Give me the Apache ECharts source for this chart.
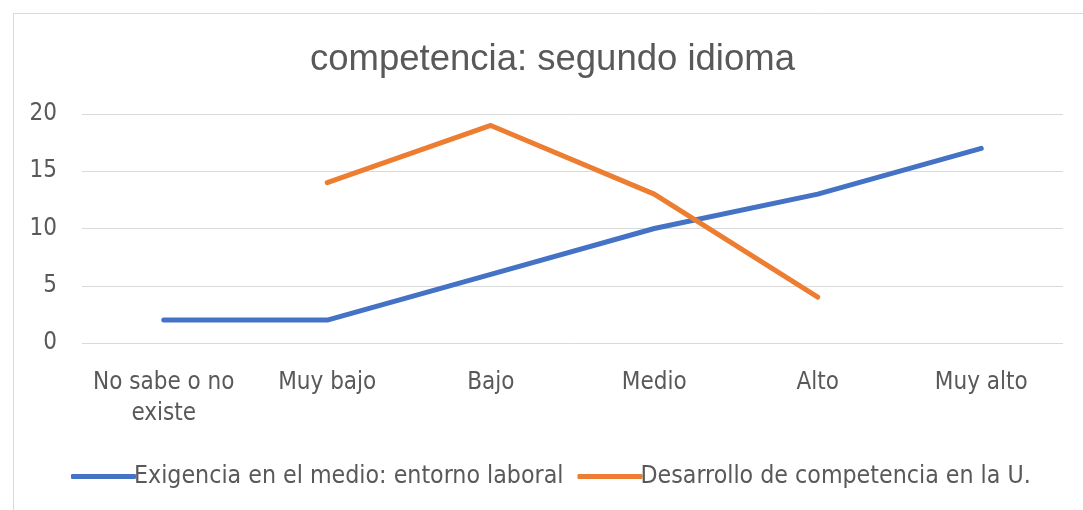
<!DOCTYPE html>
<html>
<head>
<meta charset="utf-8">
<script src="https://cdn.jsdelivr.net/npm/echarts@6/dist/echarts.min.js"></script>
<style>html,body{margin:0;padding:0;background:#fff}#c{width:1083px;height:510px}</style>
</head>
<body>
<div id="c"></div>
<script>
const categories = ["No sabe o no\nexiste", "Muy bajo", "Bajo", "Medio", "Alto", "Muy alto"];
const exigencia = [2, 2, 6, 10, 13, 17];
const desarrollo = [null, 14, 19, 13, 4, null];
const seriesNames = ["Exigencia en el medio: entorno laboral", "Desarrollo de competencia en la U."];
const yTicks = [0, 5, 10, 15, 20];

const labelFont = '"DejaVu Sans Condensed", "Liberation Sans", sans-serif';
const chart = echarts.init(document.getElementById('c'), null, {renderer: 'canvas'});
chart.setOption({
  animation: false,
  backgroundColor: '#fff',
  graphic: [{
    type: 'rect', left: 11, top: 11, shape: {width: 1090, height: 520},
    style: {fill: 'none', stroke: '#d9d9d9', lineWidth: 1}, silent: true
  }],
  title: {
    text: 'competencia: segundo idioma',
    left: 305, top: 36,
    textStyle: {fontFamily: '"Liberation Sans", Arial, sans-serif', fontWeight: 'normal', fontSize: 36.5, color: '#595959'}
  },
  legend: {
    top: 459, left: 66, itemWidth: 65, itemHeight: 5, itemGap: 14,
    icon: 'roundRect',
    textStyle: {fontFamily: labelFont, fontSize: 24.7, color: '#595959', padding: [0, 0, 0, -7]},
    data: seriesNames
  },
  grid: {left: 82, right: 20, top: 114, bottom: 167, containLabel: false},
  xAxis: {
    type: 'category', data: categories, boundaryGap: true,
    axisLine: {show: false}, axisTick: {show: false},
    axisLabel: {fontFamily: labelFont, fontSize: 24, color: '#595959', margin: 24, lineHeight: 31, interval: 0}
  },
  yAxis: {
    type: 'value', min: 0, max: 20, interval: 5,
    axisLine: {show: false}, axisTick: {show: false},
    splitLine: {lineStyle: {color: '#d9d9d9', width: 1}},
    axisLabel: {fontFamily: labelFont, fontSize: 24, color: '#595959', margin: 25,
      formatter: v => yTicks.includes(v) ? String(v) : ''}
  },
  series: [
    {name: seriesNames[0], type: 'line', data: exigencia, showSymbol: false, symbol: 'none',
      lineStyle: {color: '#4472c4', width: 5, cap: 'round', join: 'round'}, itemStyle: {color: '#4472c4'}},
    {name: seriesNames[1], type: 'line', data: desarrollo, showSymbol: false, symbol: 'none', connectNulls: false,
      lineStyle: {color: '#ed7d31', width: 5, cap: 'round', join: 'round'}, itemStyle: {color: '#ed7d31'}}
  ]
});
</script>
</body>
</html>
